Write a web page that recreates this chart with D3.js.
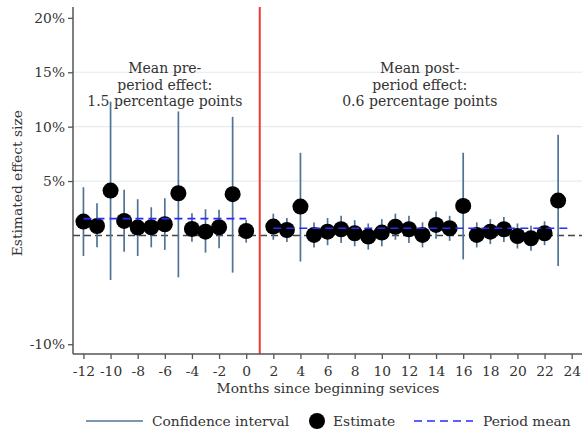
<!DOCTYPE html>
<html>
<head>
<meta charset="utf-8">
<script src="https://cdn.jsdelivr.net/npm/d3@7"></script>
<style>
  html, body { margin: 0; padding: 0; background: #fff; }
  svg { display: block; font-family: "DejaVu Serif", "Liberation Serif", serif; }
</style>
</head>
<body>
<svg id="chart" width="584" height="433"></svg>
<script>
// ---- Data ----
const months = [-12,-11,-10,-9,-8,-7,-6,-5,-4,-3,-2,-1,0,
                2,3,4,5,6,7,8,9,10,11,12,13,14,15,16,17,18,19,20,21,22,23];
const estimates = [1.27,0.87,4.12,1.33,0.72,0.75,1.03,3.88,0.60,0.35,0.75,3.79,0.41,
                   0.81,0.50,2.65,0.05,0.35,0.57,0.20,-0.10,0.26,0.80,0.57,0.05,0.97,0.66,2.71,0.05,0.35,0.57,-0.05,-0.26,0.20,3.20];
const ciLow = [-1.89,-1.09,-4.10,-1.49,-1.89,-1.09,-1.33,-3.85,-0.57,-1.58,-1.18,-3.42,-0.66,
               -0.40,-0.60,-2.40,-1.10,-0.90,-0.70,-1.00,-1.30,-1.00,-0.40,-0.70,-1.10,-0.30,-0.50,-2.20,-1.10,-0.80,-0.60,-1.20,-1.40,-0.90,-2.80];
const ciHigh = [4.43,2.96,12.30,4.19,3.33,2.59,3.42,11.40,2.04,2.41,2.35,10.90,1.43,
                2.00,1.60,7.60,1.20,1.60,1.80,1.40,1.10,1.50,2.00,1.80,1.20,2.20,1.80,7.60,1.20,1.50,1.70,1.10,0.90,1.30,9.25];
const periodStart = [-12, 2];
const periodEnd = [0, 24];
const periodMean = [1.55, 0.66];
const periodLabels = [["Mean pre-","period effect:","1.5 percentage points"],
                      ["Mean post-","period effect:","0.6 percentage points"]];
const periodLabelX = [-6, 12.8];
const xTicks = d3.range(-12, 25, 2);
const yTicks = [20, 15, 10, 5, -10];
const gridValues = [5, 10, 15];
const treatmentMonth = 1;

// ---- Layout ----
const svg = d3.select("#chart");
const pLeft = 73, pRight = 582, pTop = 7, pBottom = 354;
const x = d3.scaleLinear().domain([-12.77, 24.76]).range([pLeft, pRight]);
const y = d3.scaleLinear().domain([-10.9, 21.0]).range([pBottom, pTop]);

const textColor = "#333";
const axisColor = "#555";

// gridlines
svg.append("g").selectAll("line").data(gridValues).join("line")
  .attr("x1", pLeft).attr("x2", pRight)
  .attr("y1", d => y(d)).attr("y2", d => y(d))
  .attr("stroke", "#e4ecec").attr("stroke-width", 1.2);

// zero line
svg.append("line")
  .attr("x1", pLeft).attr("x2", pRight)
  .attr("y1", y(0)).attr("y2", y(0))
  .attr("stroke", "#444").attr("stroke-width", 1.5)
  .attr("stroke-dasharray", "7,4");

// treatment line
svg.append("line")
  .attr("x1", x(treatmentMonth)).attr("x2", x(treatmentMonth))
  .attr("y1", pTop).attr("y2", pBottom)
  .attr("stroke", "#ef3b36").attr("stroke-width", 2);

// confidence intervals
const pts = months.map((m, i) => ({m, e: estimates[i], lo: ciLow[i], hi: ciHigh[i]}));
svg.append("g").selectAll("line").data(pts).join("line")
  .attr("x1", d => x(d.m)).attr("x2", d => x(d.m))
  .attr("y1", d => y(d.lo)).attr("y2", d => y(d.hi))
  .attr("stroke", "#4f7396").attr("stroke-width", 1.7);

// estimates
svg.append("g").selectAll("circle").data(pts).join("circle")
  .attr("cx", d => x(d.m)).attr("cy", d => y(d.e))
  .attr("r", 8).attr("fill", "#000");

// period means
svg.append("g").selectAll("line").data(periodMean).join("line")
  .attr("x1", (d, i) => x(periodStart[i])).attr("x2", (d, i) => x(periodEnd[i]))
  .attr("y1", d => y(d)).attr("y2", d => y(d))
  .attr("stroke", "#2a2aff").attr("stroke-width", 1.7)
  .attr("stroke-dasharray", "8,5");

// axes
const yAxis = d3.axisLeft(y).tickValues(yTicks).tickFormat(d => d + "%").tickSize(5).tickPadding(3);
const gy = svg.append("g").attr("transform", `translate(${pLeft},0)`).call(yAxis);
gy.select(".domain").attr("d", `M-0,${pTop}V${pBottom}`).attr("stroke", axisColor).attr("stroke-width", 1.5);
gy.selectAll(".tick line").attr("stroke", axisColor).attr("stroke-width", 1.3);
gy.selectAll(".tick text").attr("fill", textColor).attr("font-size", 13.8)
  .attr("font-family", "DejaVu Serif");

const xAxis = d3.axisBottom(x).tickValues(xTicks).tickFormat(d => d).tickSize(5).tickPadding(7);
const gx = svg.append("g").attr("transform", `translate(0,${pBottom})`).call(xAxis);
gx.select(".domain").attr("d", `M${pLeft},0H${pRight}`).attr("stroke", axisColor).attr("stroke-width", 1.5);
gx.selectAll(".tick line").attr("stroke", axisColor).attr("stroke-width", 1.3);
gx.selectAll(".tick text").attr("fill", textColor).attr("font-size", 13.8)
  .attr("font-family", "DejaVu Serif");

// axis titles
svg.append("text")
  .attr("x", 328).attr("y", 393)
  .attr("text-anchor", "middle").attr("fill", textColor).attr("font-size", 13.8)
  .text("Months since beginning sevices");
svg.append("text")
  .attr("transform", `translate(22,${y(4.8)}) rotate(-90)`)
  .attr("text-anchor", "middle").attr("fill", textColor).attr("font-size", 13.8)
  .text("Estimated effect size");

// annotations
periodLabels.forEach((lines, i) => {
  const t = svg.append("text").attr("text-anchor", "middle").attr("fill", textColor).attr("font-size", 14);
  lines.forEach((ln, j) => {
    t.append("tspan").attr("x", x(periodLabelX[i])).attr("y", 73 + j * 16.5).text(ln);
  });
});

// legend
const ly = 421;
const lg = svg.append("g");
lg.append("line").attr("x1", 86).attr("x2", 143).attr("y1", ly).attr("y2", ly)
  .attr("stroke", "#4f7396").attr("stroke-width", 1.7);
lg.append("text").attr("x", 152).attr("y", ly + 5).attr("fill", textColor).attr("font-size", 13.8).text("Confidence interval");
lg.append("circle").attr("cx", 317).attr("cy", ly).attr("r", 8).attr("fill", "#000");
lg.append("text").attr("x", 333).attr("y", ly + 5).attr("fill", textColor).attr("font-size", 13.8).text("Estimate");
lg.append("line").attr("x1", 414).attr("x2", 473).attr("y1", ly).attr("y2", ly)
  .attr("stroke", "#2a2aff").attr("stroke-width", 1.7).attr("stroke-dasharray", "8,5");
lg.append("text").attr("x", 483).attr("y", ly + 5).attr("fill", textColor).attr("font-size", 13.8).text("Period mean");
</script>
</body>
</html>
